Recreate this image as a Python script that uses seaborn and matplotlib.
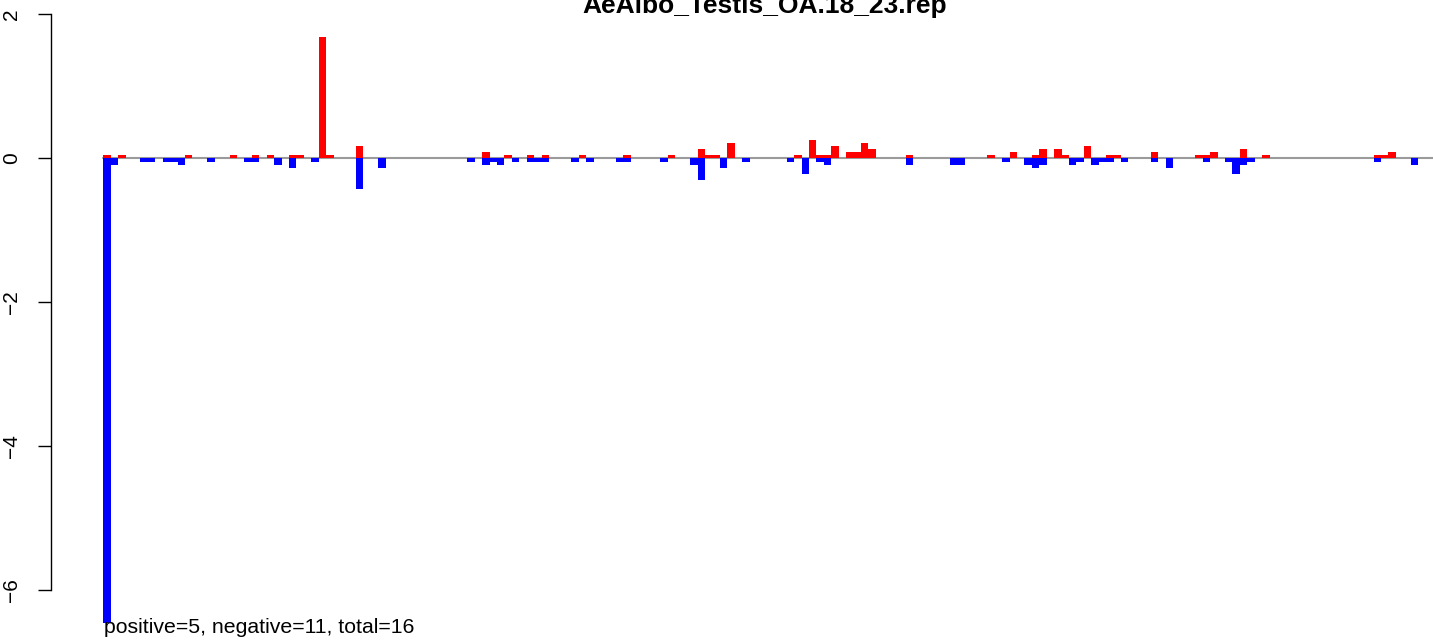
import numpy as np
import pandas as pd
import matplotlib
matplotlib.use("Agg")
import matplotlib.pyplot as plt
import seaborn as sns

# bins along the x axis (bar index) and the values drawn at them
n_bins = 178
pos_bins = [0, 2, 11, 17, 20, 22, 25, 26, 29, 30, 34, 51, 54, 57, 59, 64, 70, 76,
            80, 81, 82, 84, 93, 95, 96, 97, 98, 100, 101, 102, 103, 108, 119, 122,
            125, 126, 128, 129, 132, 135, 136, 141, 147, 148, 149, 153, 156, 171,
            172, 173]
pos_vals = [0.04, 0.04, 0.04, 0.04, 0.04, 0.04, 0.04, 0.04, 1.68, 0.04, 0.165,
            0.08, 0.04, 0.04, 0.04, 0.04, 0.04, 0.04, 0.125, 0.04, 0.04, 0.21,
            0.04, 0.25, 0.04, 0.04, 0.165, 0.08, 0.08, 0.21, 0.125, 0.04, 0.04,
            0.08, 0.04, 0.125, 0.125, 0.04, 0.165, 0.04, 0.04, 0.08, 0.04, 0.04,
            0.08, 0.125, 0.04, 0.04, 0.04, 0.08]
neg_bins = [0, 1, 5, 6, 8, 9, 10, 14, 19, 20, 23, 25, 28, 34, 37, 49, 51, 52, 53,
            55, 57, 58, 59, 63, 65, 69, 70, 75, 79, 80, 83, 86, 92, 94, 96, 97,
            108, 114, 115, 121, 124, 125, 126, 130, 131, 133, 134, 135, 137, 141,
            143, 148, 151, 152, 153, 154, 171, 176]
neg_vals = [-6.46, -0.1, -0.055, -0.055, -0.055, -0.055, -0.1, -0.055, -0.055,
            -0.055, -0.1, -0.14, -0.055, -0.43, -0.14, -0.055, -0.1, -0.055, -0.1,
            -0.055, -0.055, -0.055, -0.055, -0.055, -0.055, -0.055, -0.055, -0.055,
            -0.1, -0.305, -0.14, -0.055, -0.055, -0.22, -0.055, -0.1, -0.1, -0.1,
            -0.1, -0.055, -0.1, -0.14, -0.1, -0.1, -0.055, -0.1, -0.055, -0.055,
            -0.055, -0.055, -0.14, -0.055, -0.055, -0.22, -0.1, -0.055, -0.055,
            -0.1]

title = "AeAlbo_Testis_OA.18_23.rep"
note = "positive=5, negative=11, total=16"
yticks = [-6, -4, -2, 0, 2]

# full table, one row per bin
positive = np.zeros(n_bins)
positive[pos_bins] = pos_vals
negative = np.zeros(n_bins)
negative[neg_bins] = neg_vals
df = pd.DataFrame({"bin": np.arange(n_bins), "positive": positive, "negative": negative})

sns.set_style("white")
plt.rcParams["font.family"] = ["Liberation Sans", "DejaVu Sans"]
plt.rcParams["text.color"] = "black"

fig = plt.figure(figsize=(14.33, 6.4), dpi=100)
ax = fig.add_axes([51 / 1433, 0, 1382 / 1433, 1])

sns.barplot(data=df, x="bin", y="positive", color="#FF0000", saturation=1,
            width=1, linewidth=0, errorbar=None, ax=ax)
sns.barplot(data=df, x="bin", y="negative", color="#0000FF", saturation=1,
            width=1, linewidth=0, errorbar=None, ax=ax)

# zero line
ax.plot([-0.5, 200], [0, 0], color="#9A9A9A", lw=1.5, zorder=0.5)

ax.set_xlim(-7.54, 178.5)
ax.set_ylim(-6.694, 2.194)

for s in ["top", "right", "bottom"]:
    ax.spines[s].set_visible(False)
ax.spines["left"].set_bounds(-6, 2)
ax.spines["left"].set_color("black")
ax.spines["left"].set_linewidth(1.0)
ax.set_xticks([])
ax.set_yticks(yticks)
ax.set_yticklabels([str(t).replace("-", "\u2212") for t in yticks],
                   rotation=90, va="center", fontsize=15)
ax.tick_params(axis="y", left=True, length=9.5, width=1.0, pad=12,
               colors="black", labelcolor="black")
ax.set_xlabel("")
ax.set_ylabel("")

fig.text(765 / 1433, 1 - 13 / 640, title, ha="center", va="baseline",
         fontsize=19, fontweight="bold", color="black")
fig.text(104 / 1433, 1 - 633 / 640, note, ha="left", va="baseline",
         fontsize=15.3, color="black")

fig.savefig("out.png", dpi=100)
